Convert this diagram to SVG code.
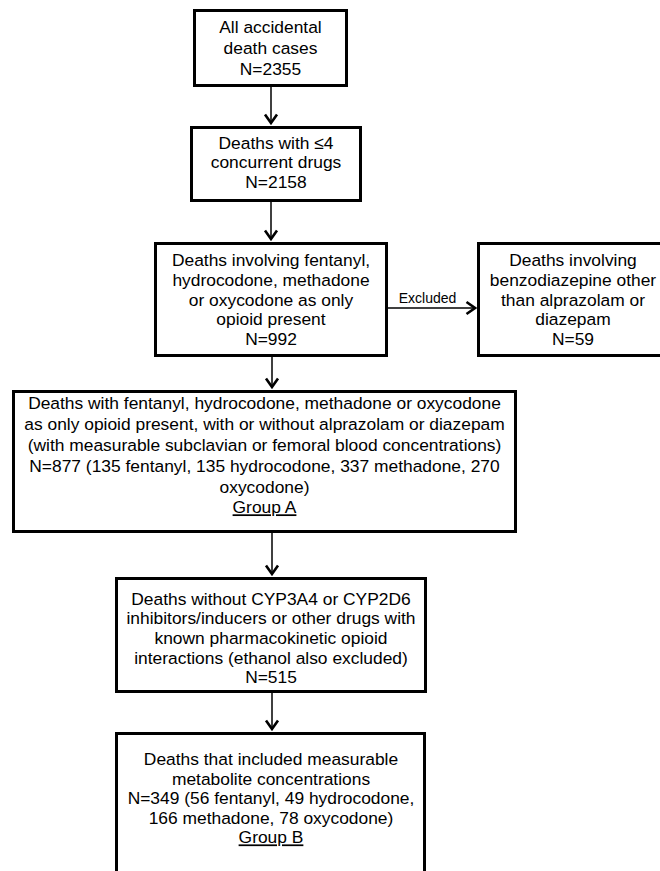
<svg xmlns="http://www.w3.org/2000/svg" width="660" height="871" viewBox="0 0 660 871">
<style>
.box{fill:#fff;stroke:#000;stroke-width:3}
.t{font-family:"Liberation Sans",Arial,sans-serif;font-size:17.4px;fill:#000;text-anchor:middle}
.lbl{font-family:"Liberation Sans",Arial,sans-serif;font-size:14px;fill:#000;text-anchor:middle}
.conn{stroke:#000;stroke-width:1.5;fill:none;marker-end:url(#chev)}
.u{text-decoration:underline}
</style>
<defs>
<marker id="chev" markerUnits="userSpaceOnUse" viewBox="-12 -9 14 18" markerWidth="14" markerHeight="18" refX="0" refY="0" orient="auto">
<path d="M-8.5,-6 L0,0 L-8.5,6" fill="none" stroke="#000" stroke-width="2.6" stroke-linejoin="miter"/>
</marker>
</defs>
<rect width="660" height="871" fill="#fff"/>
<g id="connectors">
<line class="conn" x1="271" y1="87" x2="271" y2="123"/>
<line class="conn" x1="271" y1="202" x2="271" y2="239"/>
<line class="conn" x1="272" y1="357" x2="272" y2="387"/>
<line class="conn" x1="272" y1="533" x2="272" y2="574"/>
<line class="conn" x1="272" y1="693" x2="272" y2="729"/>
<line class="conn" x1="388" y1="308" x2="475" y2="308"/>
<text class="lbl" x="427.5" y="303">Excluded</text>
</g>
<g id="n1">
<rect class="box" x="194.5" y="10.5" width="152" height="75"/>
<text class="t" x="270.5" y="32.5">All accidental</text>
<text class="t" x="270.5" y="53.5">death cases</text>
<text class="t" x="270.5" y="74.5">N=2355</text>
</g>
<g id="n2">
<rect class="box" x="191.5" y="127.5" width="169" height="73"/>
<text class="t" x="276" y="148.5">Deaths with ≤4</text>
<text class="t" x="276" y="168">concurrent drugs</text>
<text class="t" x="276" y="187.5">N=2158</text>
</g>
<g id="n3">
<rect class="box" x="155.5" y="243.5" width="231" height="112"/>
<text class="t" x="271" y="266.3">Deaths involving fentanyl,</text>
<text class="t" x="271" y="285.9">hydrocodone, methadone</text>
<text class="t" x="271" y="305.5">or oxycodone as only</text>
<text class="t" x="271" y="325.1">opioid present</text>
<text class="t" x="271" y="344.7">N=992</text>
</g>
<g id="n4">
<rect class="box" x="478.5" y="243.5" width="190" height="112"/>
<text class="t" x="573" y="266.3">Deaths involving</text>
<text class="t" x="573" y="285.9">benzodiazepine other</text>
<text class="t" x="573" y="305.5">than alprazolam or</text>
<text class="t" x="573" y="325.1">diazepam</text>
<text class="t" x="573" y="344.7">N=59</text>
</g>
<g id="n5">
<rect class="box" x="13.5" y="391.5" width="502" height="140"/>
<text class="t" x="264.5" y="409.3">Deaths with fentanyl, hydrocodone, methadone or oxycodone</text>
<text class="t" x="264.5" y="430.1">as only opioid present, with or without alprazolam or diazepam</text>
<text class="t" x="264.5" y="450.9">(with measurable subclavian or femoral blood concentrations)</text>
<text class="t" x="264.5" y="471.7">N=877 (135 fentanyl, 135 hydrocodone, 337 methadone, 270</text>
<text class="t" x="264.5" y="492.5">oxycodone)</text>
<text class="t u" x="264.5" y="513.3">Group A</text>
</g>
<g id="n6">
<rect class="box" x="116.5" y="578.5" width="309" height="113"/>
<text class="t" x="271" y="604.5">Deaths without CYP3A4 or CYP2D6</text>
<text class="t" x="271" y="624.2">inhibitors/inducers or other drugs with</text>
<text class="t" x="271" y="643.9">known pharmacokinetic opioid</text>
<text class="t" x="271" y="663.6">interactions (ethanol also excluded)</text>
<text class="t" x="271" y="683.3">N=515</text>
</g>
<g id="n7">
<rect class="box" x="116.5" y="733.5" width="308" height="160"/>
<text class="t" x="271" y="765">Deaths that included measurable</text>
<text class="t" x="271" y="784.6">metabolite concentrations</text>
<text class="t" x="271" y="804.2">N=349 (56 fentanyl, 49 hydrocodone,</text>
<text class="t" x="271" y="823.8">166 methadone, 78 oxycodone)</text>
<text class="t u" x="271" y="843.4">Group B</text>
</g>
</svg>
